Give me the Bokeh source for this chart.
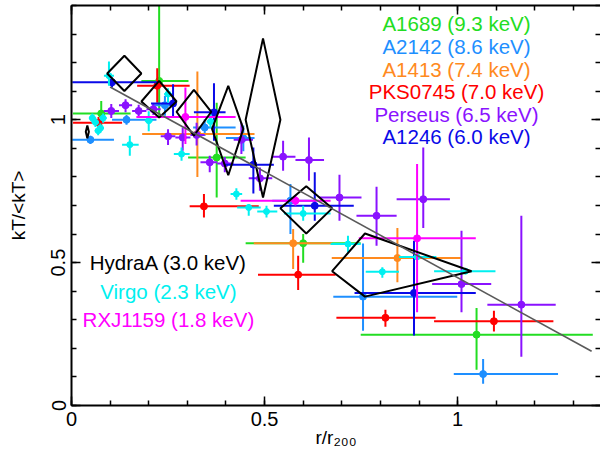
from bokeh.plotting import figure
from bokeh.models import LinearAxis, SingleIntervalTicker, NumeralTickFormatter, Range1d
from bokeh.embed import file_html
from bokeh.resources import INLINE
from bokeh.core.properties import value

FONT = "Liberation Sans"

# ---------------- data ----------------
# each cluster: x, y, x_lo, x_hi, y_lo, y_hi
a1689_x = [0.077, 0.227, 0.376, 0.600, 1.049]
a1689_y = [1.022, 1.136, 0.868, 0.568, 0.248]
a1689_xlo = [0.004, 0.181, 0.302, 0.451, 0.749]
a1689_xhi = [0.153, 0.303, 0.451, 0.749, 1.350]
a1689_ylo = [0.979, 1.014, 0.728, 0.500, 0.125]
a1689_yhi = [1.066, 1.450, 1.060, 0.600, 0.341]

a2142_x = [0.049, 0.1425, 0.242, 0.345, 0.445, 0.567, 0.755, 1.066]
a2142_y = [0.930, 1.000, 1.051, 0.973, 0.936, 0.717, 0.381, 0.110]
a2142_xlo = [0.002, 0.105, 0.209, 0.315, 0.400, 0.520, 0.678, 0.990]
a2142_xhi = [0.110, 0.220, 0.269, 0.425, 0.474, 0.630, 0.999, 1.260]
a2142_ylo = [0.915, 0.983, 1.014, 0.944, 0.890, 0.600, 0.262, 0.076]
a2142_yhi = [0.944, 1.017, 1.084, 1.002, 0.980, 0.775, 0.567, 0.163]

a1413_x = [0.326, 0.574, 0.844]
a1413_y = [0.950, 0.568, 0.516]
a1413_xlo = [0.183, 0.472, 0.674]
a1413_xhi = [0.474, 0.675, 1.008]
a1413_ylo = [0.800, 0.478, 0.431]
a1413_yhi = [1.169, 0.618, 0.621]

pks_x = [0.070, 0.222, 0.343, 0.587, 0.813, 1.094]
pks_y = [0.990, 1.119, 0.697, 0.458, 0.307, 0.295]
pks_xlo = [0.004, 0.170, 0.306, 0.483, 0.686, 0.939]
pks_xhi = [0.131, 0.306, 0.485, 0.684, 0.943, 1.248]
pks_ylo = [0.975, 1.060, 0.658, 0.404, 0.276, 0.259]
pks_yhi = [1.010, 1.180, 0.740, 0.524, 0.335, 0.332]

per_x = [0.103, 0.140, 0.174, 0.212, 0.250, 0.288, 0.324, 0.358, 0.397, 0.440,
         0.488, 0.548, 0.615, 0.694, 0.790, 0.911, 1.010, 1.165]
per_y = [1.031, 1.051, 1.031, 1.037, 0.942, 0.938, 0.947, 0.851, 0.847, 0.930,
         0.795, 0.871, 0.859, 0.728, 0.664, 0.722, 0.425, 0.353]
per_xlo = [0.084, 0.123, 0.157, 0.194, 0.231, 0.269, 0.308, 0.334, 0.377, 0.420,
           0.459, 0.520, 0.580, 0.641, 0.738, 0.842, 0.934, 1.077]
per_xhi = [0.123, 0.157, 0.194, 0.231, 0.269, 0.308, 0.345, 0.377, 0.420, 0.470,
           0.520, 0.580, 0.654, 0.751, 0.842, 0.980, 1.087, 1.254]
per_ylo = [1.006, 1.026, 1.010, 1.017, 0.912, 0.892, 0.910, 0.816, 0.816, 0.880,
           0.752, 0.822, 0.787, 0.647, 0.559, 0.621, 0.326, 0.171]
per_yhi = [1.055, 1.072, 1.053, 1.057, 0.967, 0.973, 0.990, 0.874, 0.870, 0.990,
           0.833, 0.927, 0.938, 0.808, 0.766, 0.903, 0.612, 0.664]

a1246_x = [0.105, 0.263, 0.369, 0.471, 0.630, 0.887]
a1246_y = [1.131, 1.057, 1.026, 0.843, 0.699, 0.394]
a1246_xlo = [0.002, 0.206, 0.317, 0.395, 0.524, 0.733]
a1246_xhi = [0.222, 0.270, 0.399, 0.524, 0.731, 1.047]
a1246_ylo = [1.113, 1.010, 0.927, 0.742, 0.647, 0.245]
a1246_yhi = [1.148, 1.124, 1.128, 0.903, 0.816, 0.577]

virgo_x = [0.097, 0.054, 0.062, 0.075, 0.082, 0.069, 0.151, 0.200, 0.250, 0.285,
           0.360, 0.427, 0.459, 0.505, 0.600, 0.716, 0.805, 0.895, 1.020]
virgo_y = [1.154, 1.006, 0.991, 0.971, 1.006, 0.962, 0.913, 0.997, 1.090, 0.880,
           0.994, 0.740, 0.693, 0.679, 0.672, 0.565, 0.468, 0.520, 0.470]
virgo_xlo = [0.084, 0.045, 0.053, 0.066, 0.073, 0.060, 0.131, 0.190, 0.240, 0.265,
             0.350, 0.412, 0.429, 0.481, 0.550, 0.671, 0.762, 0.848, 0.939]
virgo_xhi = [0.110, 0.063, 0.071, 0.084, 0.091, 0.078, 0.174, 0.210, 0.260, 0.306,
             0.370, 0.442, 0.490, 0.533, 0.671, 0.749, 0.848, 0.945, 1.098]
virgo_ylo = [1.119, 0.990, 0.975, 0.955, 0.990, 0.946, 0.874, 0.960, 1.060, 0.857,
             0.970, 0.720, 0.664, 0.658, 0.647, 0.536, 0.447, 0.510, 0.460]
virgo_yhi = [1.204, 1.022, 1.007, 0.987, 1.022, 0.978, 0.944, 1.030, 1.110, 0.903,
             1.020, 0.760, 0.705, 0.699, 0.699, 0.594, 0.484, 0.530, 0.480]

rxj_x = [0.295, 0.580, 0.895]
rxj_y = [1.010, 0.717, 0.585]
rxj_xlo = [0.168, 0.438, 0.744]
rxj_xhi = [0.425, 0.671, 1.047]
rxj_ylo = [0.915, 0.700, 0.326]
rxj_yhi = [1.113, 0.735, 0.845]

# HydraA: diamond error boxes
hyd_x = [0.041, 0.137, 0.227, 0.317, 0.406, 0.496, 0.608, 0.760]
hyd_y = [0.958, 1.162, 1.064, 1.028, 0.968, 1.000, 0.690, 0.470]
hyd_xlo = [0.037, 0.0925, 0.181, 0.272, 0.364, 0.451, 0.541, 0.675]
hyd_xhi = [0.045, 0.181, 0.272, 0.362, 0.445, 0.541, 0.675, 1.036]
hyd_ylo = [0.935, 1.101, 1.008, 0.944, 0.806, 0.728, 0.602, 0.381]
hyd_yhi = [0.980, 1.224, 1.136, 1.105, 1.119, 1.285, 0.767, 0.602]

# fitted relation
fit_x = [0.10, 1.347]
fit_y = [1.115, 0.190]

top_legend = ["A1689 (9.3 keV)", "A2142 (8.6 keV)", "A1413 (7.4 keV)",
              "PKS0745 (7.0 keV)", "Perseus (6.5 keV)", "A1246 (6.0 keV)"]
top_legend_y = [1.337, 1.256, 1.177, 1.098, 1.020, 0.940]
left_legend = ["HydraA (3.0 keV)", "Virgo (2.3 keV)", "RXJ1159 (1.8 keV)"]
left_legend_y = [0.50, 0.40, 0.30]

C_GREEN = "#22dd22"
C_DODGER = "#1e8fff"
C_ORANGE = "#ff8a1e"
C_RED = "#ff0000"
C_PURPLE = "#8a12ff"
C_BLUE = "#0a0ae8"
C_CYAN = "#00f0f0"
C_MAGENTA = "#ff00ff"

# ---------------- figure ----------------
p = figure(width=600, height=456, output_backend="svg", toolbar_location=None,
           x_range=Range1d(0, 1.37), y_range=Range1d(0, 1.40),
           x_axis_location=None, y_axis_location=None,
           min_border_left=71, min_border_right=0, min_border_top=5, min_border_bottom=51)
p.grid.visible = False
p.outline_line_color = None
p.background_fill_color = "white"
p.border_fill_color = "white"


def make_axis(show_labels, label=None, vertical=False, line=True):
    ax = LinearAxis(ticker=SingleIntervalTicker(interval=0.5, num_minor_ticks=5),
                    formatter=NumeralTickFormatter(format="0.[0]"))
    ax.major_tick_in = 9
    ax.major_tick_out = 0
    ax.minor_tick_in = 5
    ax.minor_tick_out = 0
    ax.major_tick_line_width = 1.5
    ax.minor_tick_line_width = 1.5
    ax.major_tick_line_color = "black"
    ax.minor_tick_line_color = "black"
    ax.axis_line_width = 2
    ax.axis_line_color = "black" if line else None
    if show_labels:
        ax.major_label_text_font = FONT
        ax.major_label_text_font_size = "20px"
        ax.major_label_text_color = "black"
        ax.major_label_standoff = 6
        if vertical:
            ax.major_label_orientation = "vertical"
    else:
        ax.major_label_text_font_size = "1px"
        ax.major_label_text_color = None
        ax.major_label_standoff = 0
    if label:
        ax.axis_label = label
        ax.axis_label_text_font = FONT
        ax.axis_label_text_font_size = "19px"
        ax.axis_label_text_font_style = "normal"
        ax.axis_label_text_color = "black"
    return ax


xax = make_axis(True, label="r/r\u2082\u2080\u2080")
xax.axis_label_standoff = -2
p.add_layout(xax, "below")
yax = make_axis(True, label="kT/<kT>", vertical=True)
yax.axis_label_standoff = 20
p.add_layout(yax, "left")
p.add_layout(make_axis(False), "above")
p.add_layout(make_axis(False, line=False), "right")


def errs(xs, ys, xlo, xhi, ylo, yhi, color, size=7):
    p.segment(x0=xlo, y0=ys, x1=xhi, y1=ys, line_color=color, line_width=2)
    p.segment(x0=xs, y0=ylo, x1=xs, y1=yhi, line_color=color, line_width=2)
    p.scatter(xs, ys, size=size, marker="circle", fill_color=color, line_color=color)


errs(a1689_x, a1689_y, a1689_xlo, a1689_xhi, a1689_ylo, a1689_yhi, C_GREEN)
errs(a2142_x, a2142_y, a2142_xlo, a2142_xhi, a2142_ylo, a2142_yhi, C_DODGER)
errs(a1413_x, a1413_y, a1413_xlo, a1413_xhi, a1413_ylo, a1413_yhi, C_ORANGE)
errs(pks_x, pks_y, pks_xlo, pks_xhi, pks_ylo, pks_yhi, C_RED)
errs(per_x, per_y, per_xlo, per_xhi, per_ylo, per_yhi, C_PURPLE)
errs(a1246_x, a1246_y, a1246_xlo, a1246_xhi, a1246_ylo, a1246_yhi, C_BLUE)
errs(virgo_x, virgo_y, virgo_xlo, virgo_xhi, virgo_ylo, virgo_yhi, C_CYAN, size=6)
errs(rxj_x, rxj_y, rxj_xlo, rxj_xhi, rxj_ylo, rxj_yhi, C_MAGENTA)

# HydraA diamonds
dx = [[lo, c, hi, c] for lo, c, hi in zip(hyd_xlo, hyd_x, hyd_xhi)]
dy = [[c, hi, c, lo] for c, lo, hi in zip(hyd_y, hyd_ylo, hyd_yhi)]
p.patches(dx, dy, fill_color=None, line_color="black", line_width=2)

# fitted line
p.line(fit_x, fit_y, line_color="#5a5a5a", line_width=1.6)

# legends as text
top_colors = [C_GREEN, C_DODGER, C_ORANGE, C_RED, C_PURPLE, C_BLUE]
p.text(x=[0.997] * len(top_legend), y=top_legend_y, text=top_legend,
       text_color=top_colors, text_font=value(FONT), text_font_size="20.5px",
       text_align="center", text_baseline="middle")
left_colors = ["black", C_CYAN, C_MAGENTA]
p.text(x=[0.251] * len(left_legend), y=left_legend_y, text=left_legend,
       text_color=left_colors, text_font=value(FONT), text_font_size="20.5px",
       text_align="center", text_baseline="middle")

open("out.html", "w").write(file_html(p, INLINE))
